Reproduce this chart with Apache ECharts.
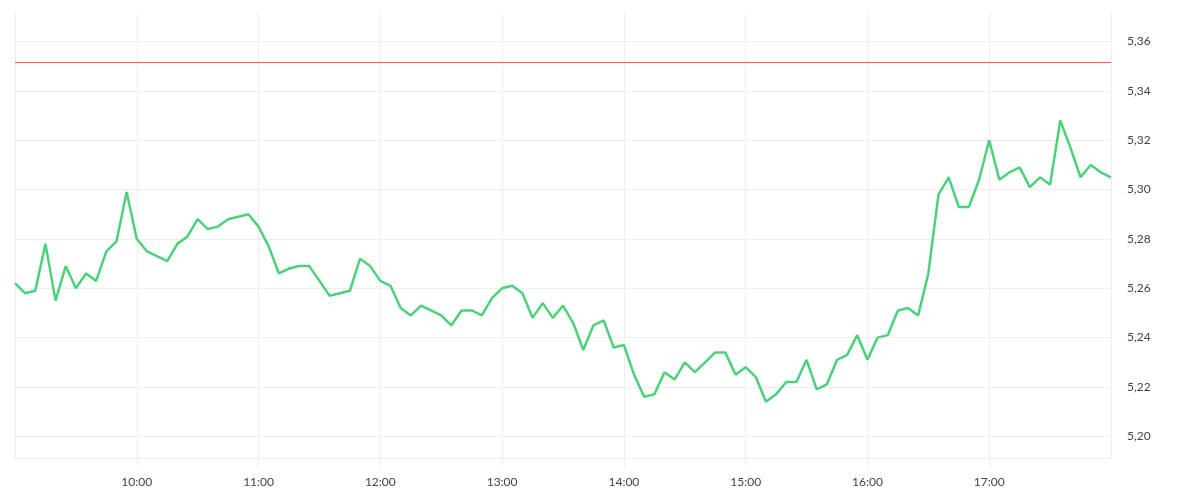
<!DOCTYPE html>
<html>
<head>
<meta charset="utf-8">
<script src="https://cdn.jsdelivr.net/npm/echarts@6/dist/echarts.min.js"></script>
<style>
  html, body { margin: 0; padding: 0; background: #fff; }
  #chart { width: 1200px; height: 500px; }
</style>
</head>
<body>
<div id="chart"></div>
<script>
// Sampling: every 5 minutes from 09:00 to 18:00
const sessionStart = 9 * 60;   // minutes of day
const sessionEnd = 18 * 60;
const stepMinutes = 5;

const prices = [
  5.262, 5.258, 5.259, 5.278, 5.255, 5.269, 5.260, 5.266, 5.263, 5.275, 5.279, 5.299,
  5.280, 5.275, 5.273, 5.271, 5.278, 5.281, 5.288, 5.284, 5.285, 5.288, 5.289, 5.290,
  5.285, 5.277, 5.266, 5.268, 5.269, 5.269, 5.263, 5.257, 5.258, 5.259, 5.272, 5.269,
  5.263, 5.261, 5.252, 5.249, 5.253, 5.251, 5.249, 5.245, 5.251, 5.251, 5.249, 5.256,
  5.260, 5.261, 5.258, 5.248, 5.254, 5.248, 5.253, 5.246, 5.235, 5.245, 5.247, 5.236,
  5.237, 5.225, 5.216, 5.217, 5.226, 5.223, 5.230, 5.226, 5.230, 5.234, 5.234, 5.225,
  5.228, 5.224, 5.214, 5.217, 5.222, 5.222, 5.231, 5.219, 5.221, 5.231, 5.233, 5.241,
  5.231, 5.240, 5.241, 5.251, 5.252, 5.249, 5.266, 5.298, 5.305, 5.293, 5.293, 5.304,
  5.320, 5.304, 5.307, 5.309, 5.301, 5.305, 5.302, 5.328, 5.317, 5.305, 5.310, 5.307,
  5.305
];

const referenceLevel = 5.3515;
const yMin = 5.1912;
const yMax = 5.372;

const times = prices.map((_, i) => sessionStart + i * stepMinutes);
const seriesData = prices.map((v, i) => [times[i], v]);
const referenceData = [[sessionStart, referenceLevel], [sessionEnd, referenceLevel]];

function fmtHour(m) {
  const h = Math.floor(m / 60), mm = m % 60;
  return String(h).padStart(2, '0') + ':' + String(mm).padStart(2, '0');
}

const chart = echarts.init(document.getElementById('chart'), null, { renderer: 'canvas' });
const grid = '#eeeeee';
const red = '#ff4d4d';
const font = 'Lato';
chart.setOption({
  animation: false,
  backgroundColor: '#ffffff',
  textStyle: { fontFamily: font },
  grid: { left: 15, right: 89, top: 12, bottom: 42, containLabel: false },
  xAxis: {
    type: 'value',
    min: sessionStart,
    max: sessionEnd,
    interval: 60,
    axisLine: { show: true, lineStyle: { color: grid, width: 1 } },
    axisTick: { show: true, length: 10, lineStyle: { color: grid } },
    splitLine: { show: true, lineStyle: { color: grid, width: 1 } },
    axisLabel: {
      showMinLabel: false, showMaxLabel: false,
      margin: 18, color: '#444', fontSize: 12, fontFamily: font,
      formatter: v => fmtHour(v)
    }
  },
  yAxis: {
    type: 'value',
    position: 'right',
    min: yMin,
    max: yMax,
    splitNumber: 9,
    scale: true,
    axisLine: { show: false },
    axisTick: { show: false },
    splitLine: { show: true, lineStyle: { color: [grid, grid, grid, grid, grid, grid, grid, grid, grid, grid, 'rgba(0,0,0,0)'], width: 1 } },
    axisLabel: {
      showMinLabel: false, showMaxLabel: false,
      margin: 16, color: '#444', fontSize: 12, fontFamily: font,
      padding: [5, 0, 0, 0],
      formatter: v => v.toFixed(2).replace('.', ',')
    }
  },
  series: [{
    type: 'line',
    name: 'reference',
    data: referenceData,
    showSymbol: false,
    symbol: 'none',
    silent: true,
    lineStyle: { color: red, width: 1, type: 'solid' },
    itemStyle: { color: red },
    z: 2
  }, {
    type: 'line',
    name: 'price',
    data: seriesData,
    showSymbol: false,
    symbol: 'none',
    lineStyle: { color: '#4cd17b', width: 2.5 },
    itemStyle: { color: '#4cd17b' },
    z: 3
  }]
});
</script>
</body>
</html>
